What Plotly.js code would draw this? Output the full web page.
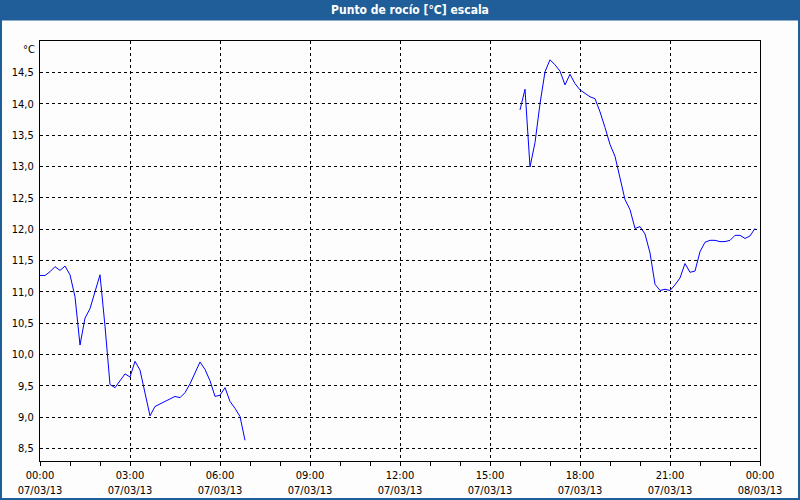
<!DOCTYPE html>
<html>
<head>
<meta charset="utf-8">
<script src="https://cdn.plot.ly/plotly-3.0.1.min.js"></script>
<style>
html,body{margin:0;padding:0;background:#fcfdfc;}
#chart{width:800px;height:500px;}
</style>
</head>
<body>
<div id="chart"></div>
<script>
// ---- data ----
const dayStart = "2013-03-07";
const dayEnd = "2013-03-08";
const titleText = "Punto de rocío [°C] escala";
const unitLabel = "°C";

const times1 = ["00:00","00:10","00:20","00:30","00:40","00:50",
                "01:00","01:10","01:20","01:30","01:40","01:50",
                "02:00","02:10","02:20","02:30","02:40","02:50",
                "03:00","03:10","03:20","03:30","03:40","03:50",
                "04:00","04:10","04:20","04:30","04:40","04:50",
                "05:00","05:10","05:20","05:30","05:40","05:50",
                "06:00","06:10","06:20","06:30","06:40","06:50"];
const dew1 = [11.26,11.26,11.32,11.40,11.34,11.41,
              11.27,10.92,10.15,10.58,10.73,11.02,
              11.27,10.45,9.52,9.47,9.58,9.69,
              9.64,9.89,9.75,9.36,9.02,9.17,
              9.21,9.24,9.29,9.33,9.31,9.39,
              9.53,9.72,9.88,9.76,9.58,9.33,
              9.35,9.47,9.25,9.14,9.01,8.63];

const times2 = ["16:00","16:10","16:20","16:30","16:40","16:50",
                "17:00","17:10","17:20","17:30","17:40","17:50",
                "18:00","18:10","18:20","18:30","18:40","18:50",
                "19:00","19:10","19:20","19:30","19:40","19:50",
                "20:00","20:10","20:20","20:30","20:40","20:50",
                "21:00","21:10","21:20","21:30","21:40","21:50",
                "22:00","22:10","22:20","22:30","22:40","22:50",
                "23:00","23:10","23:20","23:30","23:40","23:50"];
const dew2 = [13.90,14.23,12.99,13.38,14.00,14.51,
              14.70,14.62,14.52,14.30,14.47,14.32,
              14.22,14.17,14.11,14.08,13.87,13.62,
              13.35,13.16,12.82,12.47,12.31,12.01,
              12.04,11.92,11.62,11.12,11.02,11.04,
              11.02,11.11,11.22,11.45,11.31,11.33,
              11.64,11.79,11.82,11.82,11.80,11.80,
              11.82,11.90,11.90,11.85,11.89,12.01];

const yTicks = [8.5,9.0,9.5,10.0,10.5,11.0,11.5,12.0,12.5,13.0,13.5,14.0,14.5];
const yRange = [8.3, 15.0];

// ---- build ----
const x = times1.map(t => dayStart + " " + t)
  .concat([dayStart + " 07:00"])
  .concat(times2.map(t => dayStart + " " + t));
const y = dew1.concat([null]).concat(dew2);

const W = 800, H = 500, L = 40, R = 40, T = 41, B = 39;
const pw = W - L - R, ph = H - T - B;
const px = v => (v - L) / pw;          // pixel -> paper x
const py = v => (H - B - v) / ph;      // pixel -> paper y
const frame = "#1f5e98";
const fontFam = "'DejaVu Sans Condensed', 'Liberation Sans', sans-serif";

const trace = {
  x: x, y: y, type: "scatter", mode: "lines",
  line: {color: "#0000ff", width: 1},
  connectgaps: false, hoverinfo: "x+y"
};

const layout = {
  width: W, height: H,
  margin: {l: L, r: R, t: T, b: B, pad: 0},
  paper_bgcolor: "#fcfdfc",
  plot_bgcolor: "#fcfdfc",
  separators: ",.",
  showlegend: false,
  font: {family: fontFam, size: 11, color: "#000"},
  title: {
    text: "<b>" + titleText + "</b>",
    font: {family: fontFam, size: 12, color: "#ffffff"},
    x: px(410), xref: "paper", xanchor: "center",
    y: 1 - 10/H, yref: "container", yanchor: "middle"
  },
  xaxis: {
    type: "date",
    range: [dayStart + " 00:00", dayEnd + " 00:00"],
    tick0: dayStart + " 00:00",
    dtick: 3*3600*1000,
    tickformat: "%H:%M<br>%d/%m/%y",
    ticks: "outside", ticklen: 4, tickcolor: "#000", tickwidth: 1,
    minor: {dtick: 3600*1000, ticks: "outside", ticklen: 4, tickcolor: "#000", showgrid: false},
    showgrid: true, gridcolor: "#000", gridwidth: 1, griddash: "3px,3px",
    showline: true, linecolor: "#000", linewidth: 1, mirror: true,
    zeroline: false, fixedrange: true,
    tickfont: {family: fontFam, size: 11, color: "#000"}
  },
  yaxis: {
    range: yRange,
    tickvals: yTicks,
    tickformat: ".1f",
    ticks: "", ticklabelstandoff: 3,
    showgrid: true, gridcolor: "#000", gridwidth: 1, griddash: "3px,3px",
    showline: true, linecolor: "#000", linewidth: 1, mirror: true,
    zeroline: false, fixedrange: true,
    tickfont: {family: fontFam, size: 11, color: "#000"}
  },
  annotations: [{
    text: unitLabel, xref: "paper", yref: "paper",
    x: 0, y: 1, xanchor: "right", yanchor: "top",
    xshift: -3, yshift: 0, showarrow: false,
    font: {family: fontFam, size: 11, color: "#000"}
  }],
  shapes: [
    {type: "rect", xref: "paper", yref: "paper", layer: "below",
     x0: px(0), x1: px(W), y0: py(20.5), y1: py(0),
     fillcolor: frame, line: {width: 0}},
    {type: "rect", xref: "paper", yref: "paper", layer: "below",
     x0: px(1), x1: px(W - 1), y0: py(H - 1), y1: py(1),
     fillcolor: "rgba(0,0,0,0)", line: {color: frame, width: 2}}
  ]
};

Plotly.newPlot("chart", [trace], layout, {displayModeBar: false, staticPlot: true});
</script>
</body>
</html>
